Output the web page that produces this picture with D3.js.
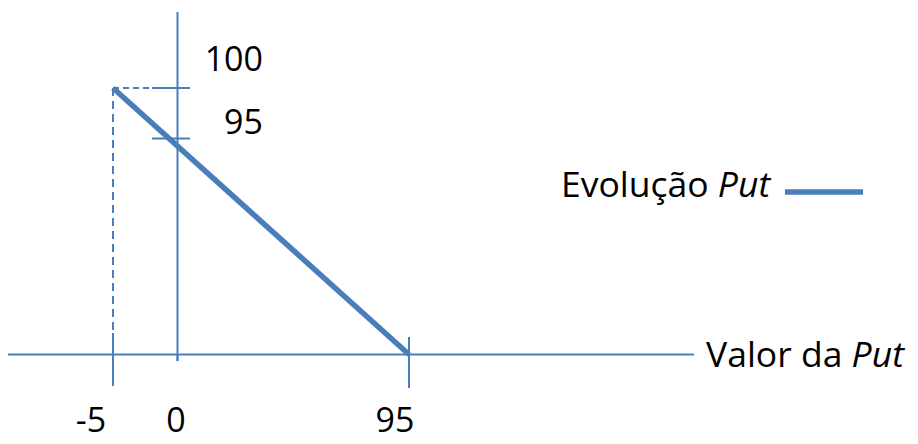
<!DOCTYPE html>
<html><head><meta charset="utf-8">
<script src="https://cdn.jsdelivr.net/npm/d3@7"></script>
<style>body{margin:0;background:#fff}svg{display:block}text{font-family:"Open Sans",sans-serif;fill:#000}</style>
</head><body>
<script>
// data
const xTickValues = [-5, 0, 95];
const xTickLabels = ["-5", "0", "95"];
const yTickValues = [95, 100];
const yTickLabels = ["95", "100"];
const putX = [-5, 95];
const putY = [100, 0];
const seriesName = "Evolução";
const seriesNameItalic = "Put";
const axisTitle = "Valor da";
const axisTitleItalic = "Put";

const W = 918, H = 444;
const blue = "#4a7ebb";
const svg = d3.select("body").append("svg").attr("width", W).attr("height", H);

// conceptual (non-proportional) scales
const x = d3.scaleLinear().domain([-5, 0, 95]).range([113, 177.5, 409]);
const y = d3.scaleLinear().domain([0, 95, 100]).range([354.5, 138.5, 88]);

// dashed guides
svg.append("line").attr("x1", x(-5)).attr("x2", x(0)).attr("y1", y(100)).attr("y2", y(100))
  .attr("stroke", blue).attr("stroke-width", 2).attr("stroke-dasharray", "6,4");
svg.append("line").attr("x1", x(-5)).attr("x2", x(-5)).attr("y1", y(100)).attr("y2", 333)
  .attr("stroke", blue).attr("stroke-width", 2).attr("stroke-dasharray", "8,5");

// axes
svg.append("line").attr("x1", 8).attr("x2", 694).attr("y1", y(0)).attr("y2", y(0))
  .attr("stroke", blue).attr("stroke-width", 2);
svg.append("line").attr("x1", x(0)).attr("x2", x(0)).attr("y1", 12).attr("y2", 361)
  .attr("stroke", blue).attr("stroke-width", 2);

// y ticks
svg.selectAll(".yt").data(yTickValues).join("line")
  .attr("x1", 152).attr("x2", 190).attr("y1", d => y(d)).attr("y2", d => y(d))
  .attr("stroke", blue).attr("stroke-width", 2);
// x ticks
const xTickExt = {"-5": [333, 386], "0": [354, 361], "95": [337, 388]};
svg.selectAll(".xt").data(xTickValues).join("line")
  .attr("x1", d => x(d)).attr("x2", d => x(d))
  .attr("y1", d => xTickExt[d][0]).attr("y2", d => xTickExt[d][1])
  .attr("stroke", blue).attr("stroke-width", 2);

// labels
const fsTick = 34, fsTitle = 35.5;
const xLabDx = {"-5": -22, "0": -1.5, "95": -14};
svg.selectAll(".xl").data(xTickValues).join("text")
  .attr("x", d => x(d) + xLabDx[d]).attr("y", 432).attr("text-anchor", "middle")
  .attr("font-size", fsTick).text((d, i) => xTickLabels[i]);
svg.selectAll(".yl").data(yTickValues).join("text")
  .attr("x", 263).attr("y", d => d === 100 ? 71 : 134).attr("text-anchor", "end")
  .attr("font-size", fsTick).text((d, i) => yTickLabels[i]);

// put line
const line = d3.line().x(d => x(d[0])).y(d => y(d[1]));
svg.append("path").datum(putX.map((v, i) => [v, putY[i]]))
  .attr("d", line).attr("fill", "none").attr("stroke", blue).attr("stroke-width", 5.5);

// axis title
const t1 = svg.append("text").attr("x", 706).attr("y", 367).attr("font-size", fsTitle);
t1.append("tspan").text(axisTitle + " ");
t1.append("tspan").attr("font-style", "italic").text(axisTitleItalic);

// legend
const t2 = svg.append("text").attr("x", 561).attr("y", 197).attr("font-size", fsTitle);
t2.append("tspan").text(seriesName + " ");
t2.append("tspan").attr("font-style", "italic").text(seriesNameItalic);
svg.append("line").attr("x1", 785).attr("x2", 863).attr("y1", 192).attr("y2", 192)
  .attr("stroke", blue).attr("stroke-width", 5.5);
</script>
</body></html>
